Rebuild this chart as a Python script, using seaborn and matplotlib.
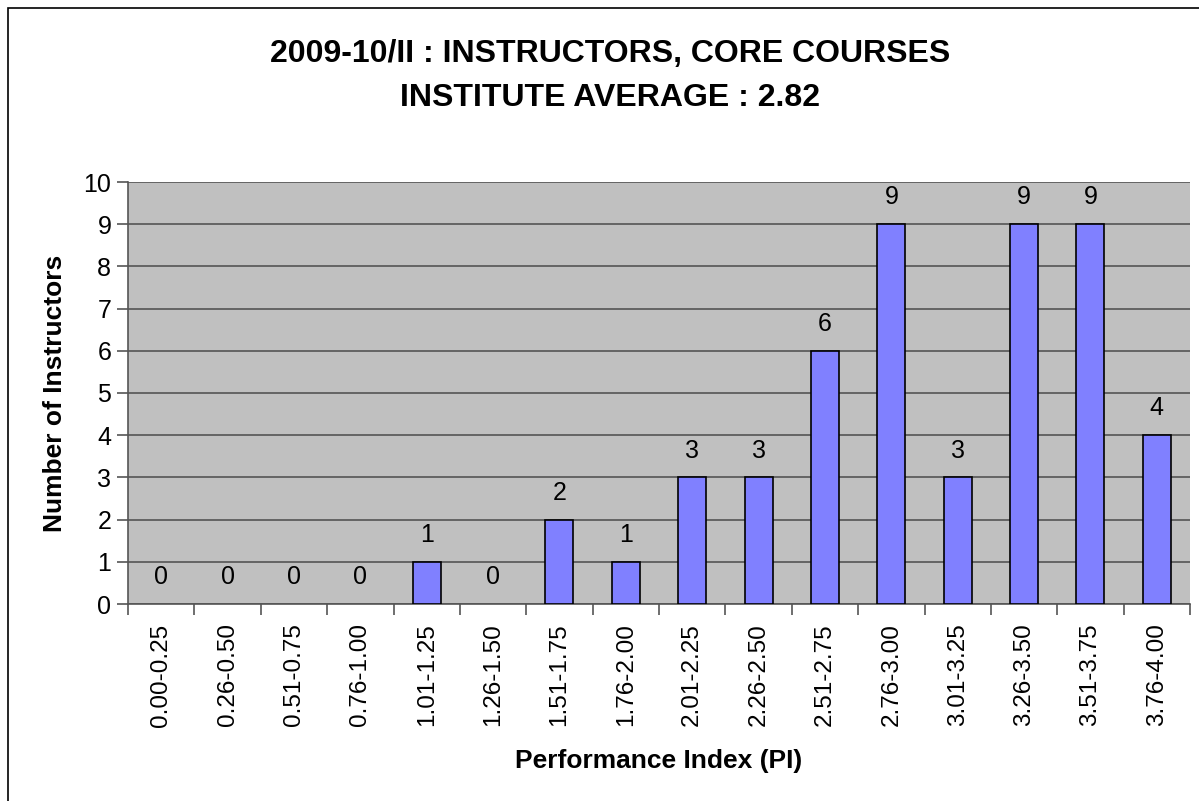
import matplotlib
matplotlib.use("Agg")
import matplotlib.pyplot as plt
import seaborn as sns
import pandas as pd
from matplotlib.patches import Rectangle
from matplotlib.ticker import FixedLocator, NullFormatter

categories = ["0.00-0.25", "0.26-0.50", "0.51-0.75", "0.76-1.00", "1.01-1.25", "1.26-1.50",
              "1.51-1.75", "1.76-2.00", "2.01-2.25", "2.26-2.50", "2.51-2.75", "2.76-3.00",
              "3.01-3.25", "3.26-3.50", "3.51-3.75", "3.76-4.00"]
counts = [0, 0, 0, 0, 1, 0, 2, 1, 3, 3, 6, 9, 3, 9, 9, 4]
title_text = "2009-10/II : INSTRUCTORS, CORE COURSES\nINSTITUTE AVERAGE : 2.82"
x_label = "Performance Index (PI)"
y_label = "Number of Instructors"

df = pd.DataFrame({"range": categories, "count": counts})

sns.set_style("white")
plt.rcParams['font.family'] = ['Liberation Sans', 'DejaVu Sans']
plt.rcParams['text.color'] = 'black'
plt.rcParams['axes.labelcolor'] = 'black'
plt.rcParams['xtick.color'] = 'black'
plt.rcParams['ytick.color'] = 'black'

fig = plt.figure(figsize=(11.99, 8.01), dpi=100)
W, H = 1199, 801
ax = fig.add_axes([128 / W, 1 - 604 / H, (1190 - 128) / W, (604 - 182) / H])

# outer chart border
fig.patches.append(Rectangle((8 / W, -0.05), 1.2, 1 - 8 / H + 0.05, transform=fig.transFigure,
                             fill=False, edgecolor="#000000", linewidth=1.2, zorder=0))

ax.set_facecolor("#C0C0C0")
sns.barplot(data=df, x="range", y="count", ax=ax, color="#8080FF", saturation=1,
            width=0.42, edgecolor="black", linewidth=1.2, zorder=3)
for p in ax.patches:
    if p.get_height() == 0:
        p.set_linewidth(0)

ax.set_xlim(-0.5, len(categories) - 0.5)
ax.set_ylim(0, 10)
ax.set_yticks(range(0, 11))
ax.yaxis.grid(True, color="#555555", linewidth=1.2, zorder=0)
ax.set_axisbelow(True)

# x ticks at category boundaries, labels at centres
ax.xaxis.set_major_locator(FixedLocator([i - 0.5 for i in range(len(categories) + 1)]))
ax.xaxis.set_major_formatter(NullFormatter())
ax.xaxis.set_minor_locator(FixedLocator(list(range(len(categories)))))
ax.set_xticklabels(categories, minor=True, rotation=90, fontsize=17.5)
ax.tick_params(axis="x", which="major", length=8, width=1.2, color="#555555", direction="out", bottom=True)
ax.tick_params(axis="x", which="minor", length=0, pad=14)
ax.tick_params(axis="y", length=8, width=1.2, color="#555555", direction="out", left=True,
               labelsize=18, pad=4)

for s in ["left", "bottom"]:
    ax.spines[s].set_color("#555555")
    ax.spines[s].set_linewidth(1.2)
for s in ["top", "right"]:
    ax.spines[s].set_visible(False)

for i, v in enumerate(counts):
    ax.text(i, v + 0.35, str(v), ha="center", va="bottom", fontsize=18, zorder=4)

ax.set_xlabel(x_label, fontsize=19, fontweight="bold", labelpad=16)
ax.set_ylabel(y_label, fontsize=19, fontweight="bold", labelpad=12)

fig.text(610 / W, 1 - 76 / H, title_text, ha="center", va="center", fontsize=23,
         fontweight="bold", linespacing=1.57)

fig.savefig("out.png", dpi=100)
